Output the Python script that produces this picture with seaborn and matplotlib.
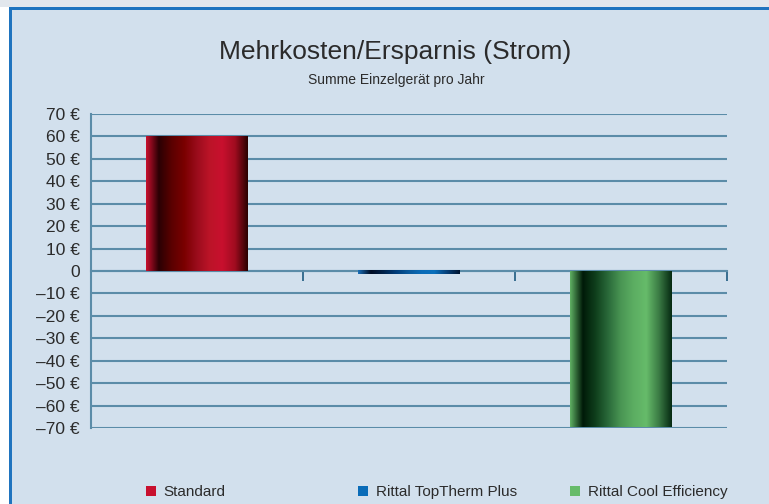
import numpy as np
import matplotlib
matplotlib.use('Agg')
import matplotlib.pyplot as plt
import matplotlib.transforms as mtransforms
from matplotlib.colors import LinearSegmentedColormap
from matplotlib.patches import Rectangle, Patch
import seaborn as sns

sns.set_style('white')
plt.rcParams['font.family'] = ['Liberation Sans', 'DejaVu Sans']

# data
categories = ['Standard', 'Rittal TopTherm Plus', 'Rittal Cool Efficiency']
values = [60, -1.5, -69.5]
legend_colors = ['#c8102e', '#0a6cb8', '#66bb6a']
yticks = list(range(-70, 80, 10))
ytick_labels = ['0' if v == 0 else f'{v} €'.replace('-', '\u2013') for v in yticks]

title = 'Mehrkosten/Ersparnis (Strom)'
subtitle = 'Summe Einzelgerät pro Jahr'

# gradient stops for the cylinder look of each bar
gradients = [
    ['#c8102e', '#2a0004', '#5a0000', '#7a0000', '#9a0c1c', '#bc1428', '#c8102e', '#a00c20', '#2a0000'],
    ['#1a6fb8', '#000c24', '#00224a', '#003d7a', '#0a5a9c', '#0a6cb8', '#0a70bc', '#063f78', '#001430'],
    ['#5fb063', '#001a08', '#0f3f1c', '#2a6a3a', '#4a9654', '#5cae62', '#66bb6a', '#3a7a44', '#062a12'],
]

grid_col = '#5b8ca8'
text_col = '#2b2b2b'
bg_col = '#d2e0ed'

fig = plt.figure(figsize=(7.69, 5.04), dpi=100)
fig.patch.set_facecolor('white')

W, H = 769, 504
# top strip, blue frame and panel background
fig.add_artist(Rectangle((0, 1 - 7 / H), 1, 7 / H, transform=fig.transFigure,
                         facecolor='#e2e7ed', edgecolor='none', zorder=0))
fig.add_artist(Rectangle((9 / W, 0), 1, 1 - 7 / H, transform=fig.transFigure,
                         facecolor='#1f74bf', edgecolor='none', zorder=0))
fig.add_artist(Rectangle((12 / W, 0), 1, 1 - 10 / H, transform=fig.transFigure,
                         facecolor=bg_col, edgecolor='none', zorder=0))

ax = fig.add_axes([91 / W, 1 - 428 / H, (727 - 91) / W, (428 - 114) / H])
ax.patch.set_visible(False)

sns.barplot(x=categories, y=values, hue=categories, palette=legend_colors,
            width=0.48, legend=False, ax=ax, zorder=3, linewidth=0)

# overlay a horizontal gradient on each bar
ramp = np.linspace(0, 1, 256).reshape(1, -1)
for patch, stops in zip(ax.patches, gradients):
    cmap = LinearSegmentedColormap.from_list('bar', stops)
    x0, y0 = patch.get_x(), patch.get_y()
    x1, y1 = x0 + patch.get_width(), y0 + patch.get_height()
    ax.imshow(ramp, cmap=cmap, extent=(x0, x1, min(y0, y1), max(y0, y1)),
              aspect='auto', zorder=4, interpolation='bilinear')

ax.set_xlim(-0.5, 2.5)
ax.set_ylim(-70, 70)
ax.set_yticks(yticks)
ax.set_yticklabels(ytick_labels, fontsize=12.5, color=text_col)
ax.set_xticks([0.5, 1.5, 2.5])
ax.set_xticklabels([])
ax.tick_params(axis='y', left=False, length=0, pad=8)
ax.tick_params(axis='x', bottom=True, direction='out', length=7, width=1.2,
               color='#1d5a80')

ax.yaxis.grid(True, color=grid_col, linewidth=1.5, zorder=1)
ax.set_axisbelow(True)
for side in ['top', 'right']:
    ax.spines[side].set_visible(False)
ax.spines['left'].set_color(grid_col)
ax.spines['left'].set_linewidth(1.5)
ax.spines['bottom'].set_position(('data', 0))
ax.spines['bottom'].set_color(grid_col)
ax.spines['bottom'].set_linewidth(1.5)
ax.set_xlabel('')
ax.set_ylabel('')

fig.text(395 / W, 1 - 52 / H, title, ha='center', va='center',
         fontsize=19, color=text_col)
fig.text(396 / W, 1 - 80 / H, subtitle, ha='center', va='center',
         fontsize=10, color=text_col)

# one legend entry under each bar's left edge
trans = mtransforms.blended_transform_factory(ax.transData, fig.transFigure)
for patch, name, col in zip(ax.patches, categories, legend_colors):
    leg = fig.legend(handles=[Patch(facecolor=col, edgecolor='none', label=name)],
                     loc='center left', bbox_to_anchor=(patch.get_x(), 1 - 492 / H),
                     bbox_transform=trans, frameon=False, borderpad=0,
                     borderaxespad=0, handlelength=0.65, handleheight=0.65,
                     handletextpad=0.5, fontsize=11)
    for t in leg.get_texts():
        t.set_color(text_col)

fig.savefig('out.png', dpi=100, facecolor=fig.get_facecolor())
